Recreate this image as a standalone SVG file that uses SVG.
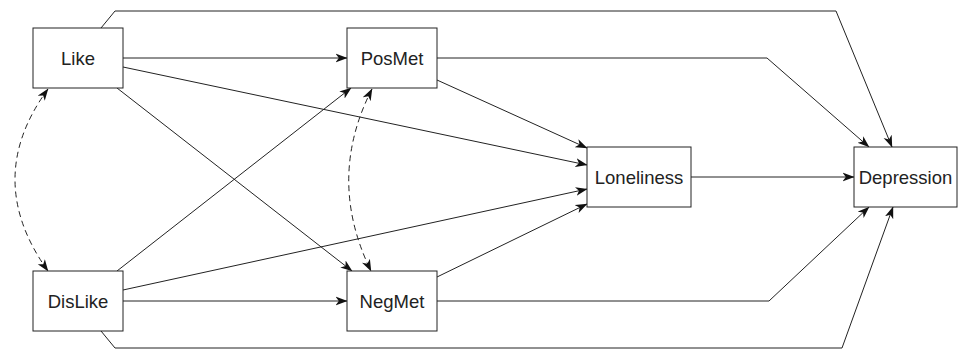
<svg xmlns="http://www.w3.org/2000/svg" width="960" height="350" viewBox="0 0 960 350">
<style>
.box{fill:#fff;stroke:#222;stroke-width:1}
.lbl{font-family:"Liberation Sans",Arial,sans-serif;font-size:18.5px;fill:#222;text-anchor:middle}
.e{fill:none;stroke:#222;stroke-width:1;marker-end:url(#arr)}
.d{fill:none;stroke:#222;stroke-width:1;stroke-dasharray:6 4;marker-start:url(#arr);marker-end:url(#arr)}
</style>
<defs>
<marker id="arr" markerUnits="userSpaceOnUse" markerWidth="12" markerHeight="10" viewBox="0 0 11 8" refX="10.5" refY="4" orient="auto-start-reverse">
<path d="M0,0 L11,4 L0,8 L3,4 Z" fill="#111"/>
</marker>
</defs>
<rect width="960" height="350" fill="#fff"/>
<g id="connectors">
<path class="e" d="M123,58 L347,58"/>
<path class="e" d="M123,67 L587,165"/>
<path class="e" d="M117,88 L352,271"/>
<path class="e" d="M117,271 L351,88"/>
<path class="e" d="M123,290 L587,189"/>
<path class="e" d="M123,301 L347,301"/>
<path class="e" d="M437,80 L587,148"/>
<path class="e" d="M437,277 L587,204"/>
<path class="e" d="M437,58 L767,58 L869,147"/>
<path class="e" d="M437,301 L769,301 L869,207"/>
<path class="e" d="M691,177 L854,177"/>
<path class="e" d="M101,28 L115,11 L836,11 L892,147"/>
<path class="e" d="M101,331 L115,348 L842,348 L893,207"/>
<path class="d" d="M48,89 Q-18,179 48,271"/>
<path class="d" d="M372,89 Q326,179 371,271"/>
</g>
<g id="Like"><rect class="box" x="33" y="28" width="90" height="60"/><text class="lbl" x="78" y="64.5">Like</text></g>
<g id="PosMet"><rect class="box" x="347" y="28" width="90" height="60"/><text class="lbl" x="392" y="64.5">PosMet</text></g>
<g id="DisLike"><rect class="box" x="33" y="271" width="90" height="60"/><text class="lbl" x="78" y="307.5">DisLike</text></g>
<g id="NegMet"><rect class="box" x="347" y="271" width="90" height="60"/><text class="lbl" x="392" y="307.5">NegMet</text></g>
<g id="Loneliness"><rect class="box" x="587" y="147" width="104" height="60"/><text class="lbl" x="639" y="183.5">Loneliness</text></g>
<g id="Depression"><rect class="box" x="854" y="147" width="103" height="60"/><text class="lbl" x="905.5" y="183.5">Depression</text></g>
</svg>
